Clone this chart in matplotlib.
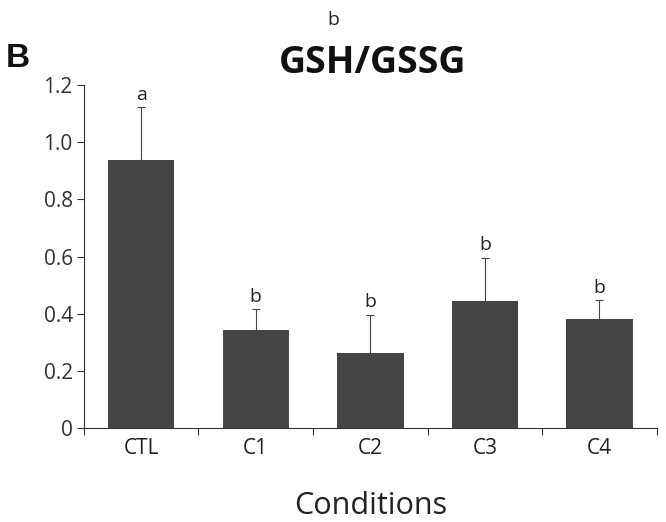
import matplotlib
matplotlib.use("Agg")
import matplotlib.pyplot as plt

plt.rcParams['font.family'] = ['Open Sans', 'DejaVu Sans']

conditions = ["CTL", "C1", "C2", "C3", "C4"]
means = [0.938, 0.342, 0.263, 0.444, 0.380]
errors = [0.185, 0.073, 0.133, 0.152, 0.068]
letters = ["a", "b", "b", "b", "b"]

fig = plt.figure(figsize=(6.66, 5.22), dpi=100)
ax = fig.add_axes([0.126, 0.180, 0.86, 0.657])

x = list(range(len(conditions)))
ax.bar(x, means, width=0.58, color="#444444", zorder=2)
ax.errorbar(x, means, yerr=[[0] * len(errors), errors], fmt="none",
            ecolor="#444444", elinewidth=0.8, capsize=3, capthick=0.8, zorder=1)
for xi, m, e, lab in zip(x, means, errors, letters):
    ax.text(xi, m + e + 0.012, lab, ha="center", va="bottom", fontsize=14, color="#222222")

ax.set_xlim(-0.5, 4.5)
ax.set_ylim(0, 1.2)
ax.set_yticks([0, 0.2, 0.4, 0.6, 0.8, 1.0, 1.2])
ax.set_yticklabels(["0", "0.2", "0.4", "0.6", "0.8", "1.0", "1.2"])
ax.set_xticks([-0.5, 0.5, 1.5, 2.5, 3.5, 4.5])
ax.set_xticklabels([])
ax.set_xticks(x, minor=True)
ax.set_xticklabels(conditions, minor=True)
ax.tick_params(axis="x", which="minor", length=0, pad=7, labelsize=15, labelcolor="#222222")
ax.tick_params(axis="x", which="major", length=5, width=0.8, color="#333333")
ax.tick_params(axis="y", length=5, width=0.8, color="#333333", labelsize=15,
               labelcolor="#333333", pad=3)
for s in ["top", "right"]:
    ax.spines[s].set_visible(False)
for s in ["left", "bottom"]:
    ax.spines[s].set_linewidth(0.8)
    ax.spines[s].set_color("#333333")

ax.set_xlabel("Conditions", fontsize=22, color="#222222", labelpad=23)
fig.text(0.559, 0.879, "GSH/GSSG", ha="center", va="center", fontsize=27,
         fontweight="bold", color="#111111")
fig.text(0.008, 0.887, "B", ha="left", va="center", fontsize=24,
         fontweight="bold", color="#111111", family="Liberation Sans")
fig.text(0.5, 0.962, "b", ha="center", va="center", fontsize=14, color="#222222")

fig.savefig("out.png", dpi=100)
